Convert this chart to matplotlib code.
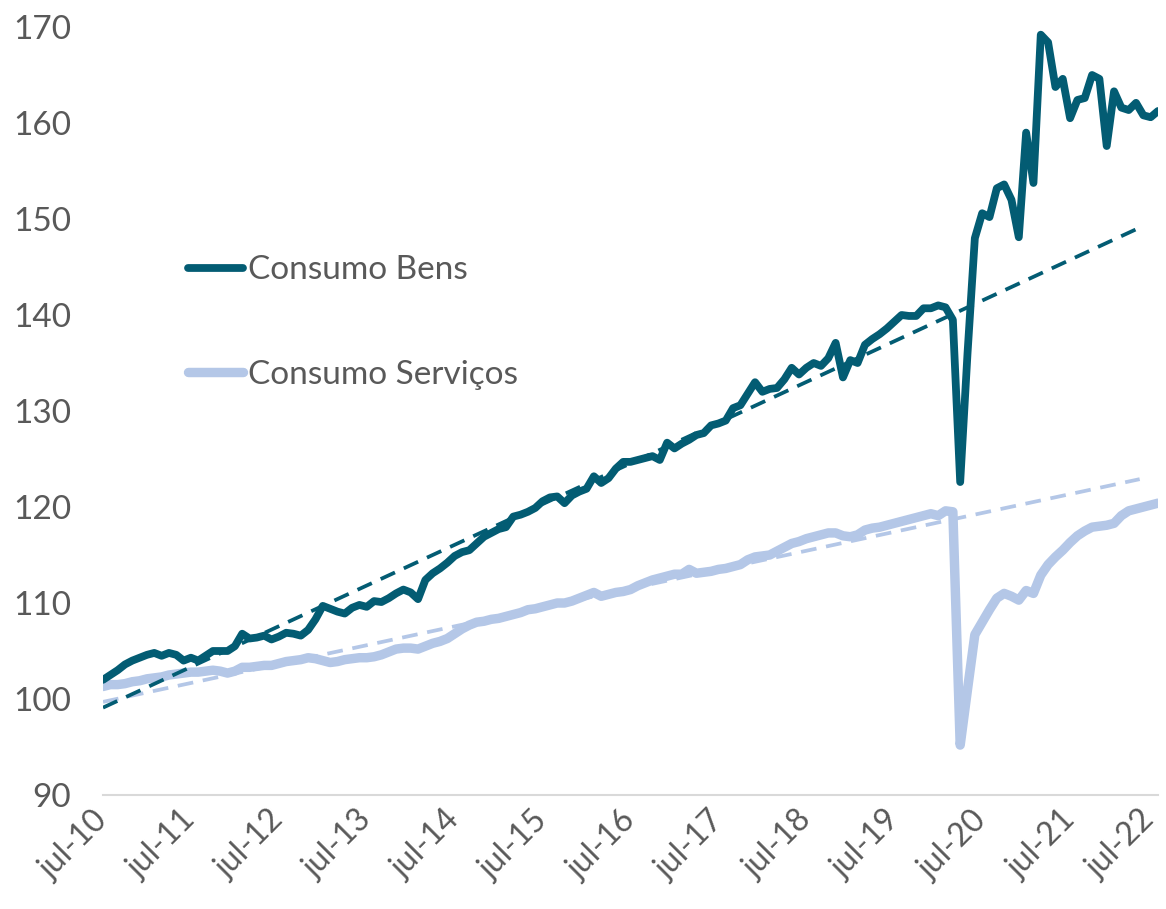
import matplotlib
matplotlib.use("Agg")
import matplotlib.pyplot as plt
import matplotlib.transforms as mtransforms
import numpy as np

# ---------------- data (monthly, jul-10 .. jul-22) ----------------
consumo_bens = (
    [102.0, 102.5, 103.0, 103.6, 104.0, 104.3, 104.6, 104.8, 104.5, 104.8, 104.6, 104.0] +
    [104.3, 104.0, 104.5, 105.0, 105.0, 105.0, 105.5, 106.8, 106.3, 106.4, 106.6, 106.2] +
    [106.5, 106.9, 106.8, 106.6, 107.2, 108.3, 109.7, 109.4, 109.1, 108.9, 109.5, 109.8] +
    [109.6, 110.2, 110.1, 110.5, 111.0, 111.4, 111.1, 110.4, 112.4, 113.1, 113.6, 114.2] +
    [114.9, 115.3, 115.5, 116.2, 116.9, 117.3, 117.7, 117.9, 119.0, 119.2, 119.5, 119.9] +
    [120.6, 121.0, 121.1, 120.4, 121.2, 121.6, 121.9, 123.2, 122.5, 123.0, 124.0, 124.7] +
    [124.7, 124.9, 125.1, 125.3, 124.9, 126.7, 126.1, 126.6, 127.0, 127.5, 127.7, 128.5] +
    [128.7, 129.0, 130.3, 130.6, 131.8, 133.0, 132.0, 132.3, 132.4, 133.3, 134.5, 133.8] +
    [134.5, 135.0, 134.7, 135.5, 137.1, 133.5, 135.3, 135.0, 136.9, 137.5, 138.0, 138.6] +
    [139.3, 140.0, 139.9, 139.9, 140.7, 140.7, 141.0, 140.8, 139.5, 122.6, 136.0, 148.0] +
    [150.6, 150.2, 153.2, 153.6, 152.0, 148.1, 159.0, 153.75, 169.2, 168.4, 163.75, 164.6] +
    [160.5, 162.4, 162.6, 165.0, 164.6, 157.6, 163.3, 161.6, 161.35, 162.1, 160.8, 160.6] +
    [161.25]
)

consumo_servicos = (
    [101.3, 101.5, 101.5, 101.6, 101.8, 101.9, 102.1, 102.2, 102.3, 102.5, 102.6, 102.7] +
    [102.8, 102.8, 102.9, 103.0, 102.9, 102.7, 102.9, 103.3, 103.3, 103.4, 103.5, 103.5] +
    [103.7, 103.9, 104.0, 104.1, 104.3, 104.2, 104.0, 103.8, 103.9, 104.1, 104.2, 104.3] +
    [104.3, 104.4, 104.6, 104.9, 105.2, 105.3, 105.3, 105.2, 105.5, 105.8, 106.0, 106.3] +
    [106.8, 107.3, 107.7, 108.0, 108.1, 108.3, 108.4, 108.6, 108.8, 109.0, 109.3, 109.4] +
    [109.6, 109.8, 110.0, 110.0, 110.2, 110.5, 110.8, 111.1, 110.7, 110.9, 111.1, 111.2] +
    [111.4, 111.8, 112.1, 112.4, 112.6, 112.8, 113.0, 113.0, 113.5, 113.1, 113.2, 113.3] +
    [113.5, 113.6, 113.8, 114.0, 114.5, 114.8, 114.9, 115.0, 115.4, 115.8, 116.2, 116.4] +
    [116.7, 116.9, 117.1, 117.3, 117.3, 117.0, 116.9, 117.1, 117.6, 117.8, 117.9, 118.1] +
    [118.3, 118.5, 118.7, 118.9, 119.1, 119.3, 119.1, 119.6, 119.5, 95.2, 101.0, 106.7] +
    [108.0, 109.3, 110.5, 111.0, 110.7, 110.3, 111.3, 111.0, 112.9, 114.0, 114.8, 115.5] +
    [116.3, 117.0, 117.5, 117.9, 118.0, 118.1, 118.3, 119.1, 119.6, 119.8, 120.0, 120.2] +
    [120.4]
)

# linear trends (start / end values, month index of the ends)
trend_months = [0, 141.5]
trend_bens = [99.1, 149.1]
trend_servicos = [99.7, 122.9]

tick_labels = ["jul-10", "jul-11", "jul-12", "jul-13", "jul-14", "jul-15", "jul-16",
               "jul-17", "jul-18", "jul-19", "jul-20", "jul-21", "jul-22"]

# ---------------- figure ----------------
plt.rcParams['font.family'] = ['Lato', 'DejaVu Sans']
DARK = '#035C73'
LIGHT = '#B4C7E7'
TXT = '#595959'

fig = plt.figure(figsize=(11.66, 9.09), dpi=100)
ax = fig.add_axes([103 / 1166, (909 - 795) / 909, (1158 - 103) / 1166, (795 - 27) / 909])

months = np.arange(len(consumo_bens))

ax.plot(months, consumo_servicos, color=LIGHT, lw=6.8, solid_joinstyle='round',
        solid_capstyle='round', zorder=2, label='Consumo Serviços')
ax.plot(trend_months, trend_servicos, color=LIGHT, lw=2.7, ls=(0, (4.2, 2.6)), zorder=3)
ax.plot(trend_months, trend_bens, color=DARK, lw=2.7, ls=(0, (4.2, 2.6)), zorder=3)
ax.plot(months, consumo_bens, color=DARK, lw=5.6, solid_joinstyle='round',
        solid_capstyle='round', zorder=4, label='Consumo Bens')

ax.set_xlim(0, 144)
ax.set_ylim(90, 170)
ax.set_yticks(np.arange(90, 171, 10))
ax.set_xticks(np.arange(0, 145, 12))
ax.set_xticklabels(tick_labels, rotation=45, ha='right', va='center',
                   rotation_mode='anchor', fontsize=23, color=TXT)
ax.tick_params(axis='x', length=0, pad=15)
ax.tick_params(axis='y', length=0, pad=23, labelsize=24, labelcolor=TXT)

# keep the last label inside the canvas
last = ax.get_xticklabels()[-1]
last.set_transform(last.get_transform() +
                   mtransforms.ScaledTranslation(-8 / 100, 0, fig.dpi_scale_trans))

for s in ['top', 'right', 'left']:
    ax.spines[s].set_visible(False)
ax.spines['bottom'].set_color('#D9D9D9')
ax.spines['bottom'].set_linewidth(1.5)
ax.spines['bottom'].set_zorder(1)

handles, labels = ax.get_legend_handles_labels()
order = [1, 0]
leg = ax.legend([handles[i] for i in order], [labels[i] for i in order],
                loc='upper left', bbox_to_anchor=(0.068, 0.72), frameon=False,
                fontsize=24, handlelength=1.65, handletextpad=0.15, labelspacing=2.24,
                borderaxespad=0.0)
for t in leg.get_texts():
    t.set_color(TXT)

fig.savefig('out.png', dpi=100)
